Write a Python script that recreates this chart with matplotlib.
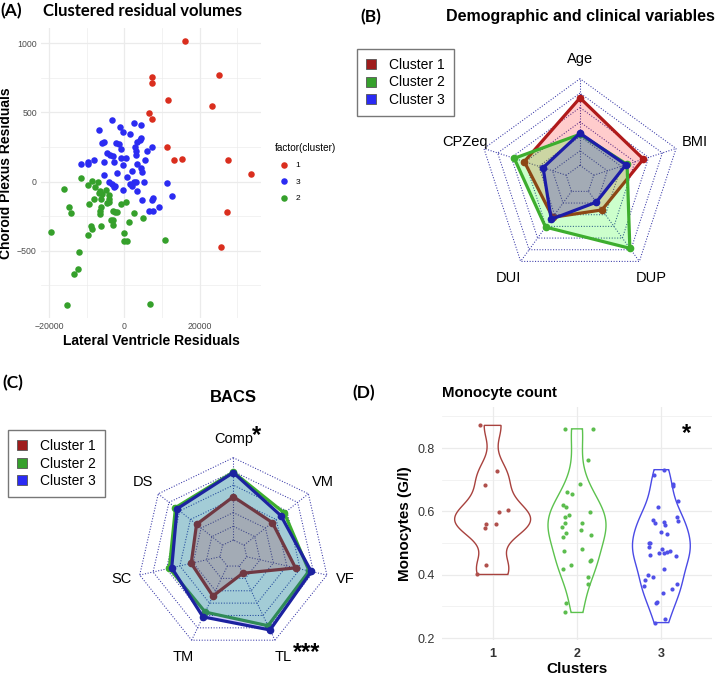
import numpy as np
import matplotlib
matplotlib.use("Agg")
from matplotlib import pyplot as plt
from matplotlib.patches import Patch

plt.rcParams['font.family'] = ['Liberation Sans', 'DejaVu Sans']

# (A) residual volumes per cluster
c1_lv = [16100, 25000, 7300, 7400, 11450, 23200, 6600, 7300, 11300, 13200, 15200, 27500, 33600, 27100, 25600]
c1_cp = [1015, 771, 754, 709, 590, 545, 492, 453, 253, 157, 161, 157, 51, -224, -470]

c3_lv = [-3350, -6700, -1300, 2600, 4400, 1400, -260, -5550, -6000, -2300, -1400, 2800, 3100, 4300, 4100,
         3400, 7200, 5900, -4500, -3800, -900, -5550, -8000, -9700, -9700, -11500, -3100, -2900, -1000, 440,
         -440, 3200, 3300, 5400, 4400, 4600, 2100, -1850, -5550, 600, 5300, -4050, -3260, -2380, -2730,
         1500, 1900, 2600, 3100, -260, 3300, 11300, 12600, 4600, 7700, 7200, 6400, 7700, 9300]
c3_cp = [446, 376, 393, 422, 405, 340, 357, 289, 277, 275, 270, 253, 224, 313, 301,
         284, 246, 217, 205, 193, 236, 142, 159, 140, 125, 123, 188, 140, 171, 171,
         116, 190, 130, 159, 96, 72, 77, 65, 48, 29, -2, -7, -17, -29, -41,
         -19, -31, 0, -7, -60, -67, -12, -104, -135, -118, -133, -210, -210, -181]

c2_lv = [-11500, -8550, -7050, -16100, -9800, -7900, -6800, -6400, -5000, -5900, -8000, -6300, -4100, -4000,
         -4100, -4500, -9500, -14700, -14100, -6300, -6400, -6500, -3100, -2500, 440, -900, -2000, 2600,
         5000, -8900, -8600, -6100, -3000, -3500, -3100, 1300, -180, -19500, -9800, -90, 600, 10700,
         -12100, -12400, -13300, -15300, 6900]
c2_cp = [24, 7, -2, -55, -24, -43, -80, -72, -60, -92, -130, -128, -96, -123,
         -147, -159, -164, -186, -229, -181, -210, -234, -210, -222, -147, -164, -224, -231,
         -263, -325, -345, -320, -316, -277, -277, -296, -374, -366, -388, -431, -427, -422,
         -511, -634, -672, -892, -889]

# (B) demographic and clinical variables, scaled 0-1 (fmsb order, counter-clockwise from top)
demo_vars = ['Age', 'CPZeq', 'DUI', 'DUP', 'BMI']
demo_c1 = [0.778, 0.510, 0.370, 0.265, 0.603]
demo_c2 = [0.358, 0.632, 0.510, 0.813, 0.405]
demo_c3 = [0.370, 0.282, 0.399, 0.154, 0.391]

# (C) BACS subscores, scaled 0-1
bacs_vars = ['Comp', 'DS', 'SC', 'TM', 'TL', 'VF', 'VM']
bacs_c1 = [0.526, 0.405, 0.358, 0.405, 0.097, 0.609, 0.440]
bacs_c2 = [0.825, 0.732, 0.631, 0.621, 0.805, 0.778, 0.627]
bacs_c3 = [0.819, 0.708, 0.601, 0.685, 0.862, 0.805, 0.574]

# (D) monocyte counts (G/l) and horizontal jitter
mono_c1 = [0.872, 0.728, 0.683, 0.599, 0.604, 0.560, 0.549, 0.561, 0.431, 0.401]
jit_c1 = [-0.15, 0.05, -0.09, 0.07, 0.18, -0.08, -0.09, 0.04, -0.08, -0.18]
mono_c2 = [0.861, 0.860, 0.763, 0.663, 0.654, 0.688, 0.619, 0.615, 0.589, 0.584, 0.598, 0.552, 0.565, 0.563,
           0.540, 0.531, 0.519, 0.527, 0.476, 0.480, 0.432, 0.419, 0.447, 0.442, 0.393, 0.372, 0.311, 0.281]
jit_c2 = [-0.14, 0.19, 0.13, -0.12, -0.06, 0.03, -0.17, -0.13, -0.09, -0.14, 0.15, -0.18, -0.14, 0.06,
          0.05, -0.13, -0.17, 0.17, -0.15, 0.06, -0.07, -0.17, 0.16, 0.15, 0.13, 0.13, -0.13, -0.14]
mono_c3 = [0.732, 0.714, 0.688, 0.679, 0.632, 0.613, 0.582, 0.571, 0.574, 0.563, 0.568, 0.556, 0.535, 0.529,
           0.500, 0.500, 0.487, 0.462, 0.468, 0.480, 0.468, 0.473, 0.474, 0.460, 0.419, 0.398, 0.393, 0.383,
           0.366, 0.371, 0.354, 0.342, 0.314, 0.311, 0.261, 0.249]
jit_c3 = [0.03, -0.09, 0.14, 0.14, 0.20, -0.04, 0.18, 0.20, -0.10, -0.08, 0.03, 0.04, -0.01, 0.07,
          -0.15, -0.14, -0.15, -0.13, -0.03, 0.01, 0.03, 0.07, 0.10, 0.17, 0.03, -0.16, -0.10, -0.19,
          -0.21, 0.18, 0.12, 0.02, -0.05, -0.06, 0.04, -0.07]

W, H = 725, 675
fig = plt.figure(figsize=(W / 100, H / 100), dpi=100)


def box(l, t, r, b):
    return [l / W, 1 - b / H, (r - l) / W, (b - t) / H]


def ftext(x, y, s, **kw):
    fig.text(x / W, 1 - y / H, s, **kw)


panel_font = ['Lato', 'DejaVu Sans']
grid_col = '#EBEBEB'

# ---------------- (A) scatter ----------------
axA = fig.add_axes(box(41, 28, 261, 318))
axA.scatter(c1_lv, c1_cp, s=22, color='#DA2E1E', lw=0, label='1', zorder=3)
axA.scatter(c3_lv, c3_cp, s=22, color='#2B2BF2', lw=0, label='3', zorder=3)
axA.scatter(c2_lv, c2_cp, s=22, color='#35A02B', lw=0, label='2', zorder=3)
axA.set_xlim(-22150, 36250)
axA.set_ylim(-987, 1110)
axA.set_xticks([-20000, 0, 20000])
axA.set_xticks([-10000, 10000, 30000], minor=True)
axA.set_yticks([-500, 0, 500, 1000])
axA.set_yticks([-750, -250, 250, 750], minor=True)
axA.grid(which='major', color=grid_col, lw=0.9)
axA.grid(which='minor', color=grid_col, lw=0.45)
axA.set_axisbelow(True)
for sp in axA.spines.values():
    sp.set_visible(False)
axA.tick_params(which='both', length=0, labelsize=6.3, labelcolor='#4D4D4D', pad=3)
axA.set_xlabel('Lateral Ventricle Residuals', fontsize=10, fontweight='bold', labelpad=2)
axA.set_ylabel('Choroid Plexus Residuals', fontsize=10, fontweight='bold', labelpad=3)
legA = axA.legend(title='factor(cluster)', loc='upper left', bbox_to_anchor=(272 / W, 1 - 140 / H),
                  bbox_transform=fig.transFigure, frameon=False, fontsize=6, title_fontsize=7.2,
                  handletextpad=0.4, labelspacing=1.0, borderaxespad=0, markerscale=1.0)
legA._legend_box.align = 'left'
ftext(0, 11, '(A)', fontsize=12.5, fontweight='bold', family=panel_font, va='center')
ftext(43, 11, 'Clustered residual volumes', fontsize=12, fontweight='bold', family=panel_font, va='center')


# ---------------- radar helper (fmsb style) ----------------
def radar(ax, labels, series, line_cols, fill_cols, seg=6):
    n = len(labels)
    theta = np.deg2rad(90 + 360 * np.arange(n) / n)
    cx, cy = np.cos(theta), np.sin(theta)
    for i in range(seg + 1):
        r = (i + 1) / (seg + 1)
        ax.plot(np.append(cx, cx[0]) * r, np.append(cy, cy[0]) * r, ls=(0, (1, 1.6)),
                color='#3434A6', lw=0.75, zorder=2)
    for k in range(n):
        ax.plot([cx[k] / (seg + 1), cx[k]], [cy[k] / (seg + 1), cy[k]], ls=(0, (1, 1.6)),
                color='#3434A6', lw=0.75, zorder=2)
    for j, (vals, lc, fc) in enumerate(zip(series, line_cols, fill_cols)):
        r = (1 + np.array(vals) * seg) / (seg + 1)
        ax.fill(cx * r, cy * r, facecolor=fc, edgecolor=lc, lw=2.3, zorder=3 + 2 * j, joinstyle='miter')
        ax.plot(cx * r, cy * r, 'o', color=lc, ms=4.5, zorder=4 + 2 * j)
    for k in range(n):
        ax.text(1.2 * cx[k], 1.2 * cy[k], labels[k], ha='center', va='center', fontsize=10.5)
    ax.axis('off')


line_cols = ['#B01A1A', '#3DAE2E', '#1C1CA8']
fill_cols = [(1, 0, 0, 0.2), (0, 1, 0, 0.2), (0, 0, 1, 0.2)]
leg_cols = ['#9E1C1C', '#36A02C', '#2A2AF4']
leg_handles = [Patch(facecolor=c, edgecolor='#555555', lw=0.6) for c in leg_cols]
leg_labels = ['Cluster 1', 'Cluster 2', 'Cluster 3']
leg_kw = dict(bbox_transform=fig.transFigure, loc='upper left', fontsize=10, handlelength=0.75,
              handleheight=0.75, handletextpad=0.9, labelspacing=0.25, borderpad=0.65, borderaxespad=0,
              fancybox=False, edgecolor='#777777', framealpha=1)

# ---------------- (B) ----------------
bcx, bcy, bR = 580, 179.7, 101
axB = fig.add_axes(box(435, 30, 725, 330))
radar(axB, demo_vars, [demo_c1, demo_c2, demo_c3], line_cols, fill_cols)
axB.set_xlim((435 - bcx) / bR, (725 - bcx) / bR)
axB.set_ylim(-(330 - bcy) / bR, (bcy - 30) / bR)
axB.legend(leg_handles, leg_labels, bbox_to_anchor=(357 / W, 1 - 49 / H), **leg_kw)
ftext(360, 17, '(B)', fontsize=12.5, fontweight='bold', family=panel_font, va='center')
ftext(580, 17, 'Demographic and clinical variables', fontsize=11.5, fontweight='bold', ha='center', va='center')

# ---------------- (C) ----------------
ccx, ccy, cR = 233.3, 553.7, 96
axC = fig.add_axes(box(100, 415, 370, 675))
radar(axC, bacs_vars, [bacs_c1, bacs_c2, bacs_c3], ['#B01A1A', '#3DAE2E', '#1C22A0'], fill_cols)
axC.set_xlim((100 - ccx) / cR, (370 - ccx) / cR)
axC.set_ylim(-(675 - ccy) / cR, (ccy - 415) / cR)
axC.legend(leg_handles, leg_labels, bbox_to_anchor=(8 / W, 1 - 430 / H), **leg_kw)
ftext(2, 383, '(C)', fontsize=12.5, fontweight='bold', family=panel_font, va='center')
ftext(233, 397, 'BACS', fontsize=12, fontweight='bold', ha='center', va='center')
ftext(257, 436, '*', fontsize=17, fontweight='bold', ha='center', va='center')
ftext(307, 653, '***', fontsize=17, fontweight='bold', ha='center', va='center')

# ---------------- (D) violins ----------------
axD = fig.add_axes(box(442, 407, 712, 640))
groups = [mono_c1, mono_c2, mono_c3]
jitters = [jit_c1, jit_c2, jit_c3]
vcols = ['#A8423E', '#5CC24E', '#4A4AE6']
pcols = ['#B0504C', '#5CBD4E', '#5050E8']


def nrd0(v):
    sd = np.std(v, ddof=1)
    q75, q25 = np.percentile(v, [75, 25])
    return 0.9 * min(sd, (q75 - q25) / 1.34) * len(v) ** -0.2


dens = []
for g in groups:
    v = np.array(g)
    bw = nrd0(v)
    grid = np.linspace(v.min(), v.max(), 512)
    d = np.exp(-0.5 * ((grid[:, None] - v[None, :]) / bw) ** 2).sum(1) / (len(v) * bw * np.sqrt(2 * np.pi))
    dens.append((grid, d))
dmax = max(d.max() for _, d in dens)

for i, (grid, d) in enumerate(dens):
    pos = i + 1
    hw = 0.45 * d / dmax
    axD.fill(np.concatenate([pos + hw, (pos - hw)[::-1]]), np.concatenate([grid, grid[::-1]]),
             facecolor='none', edgecolor=vcols[i], lw=1.0, zorder=3)
    axD.scatter(pos + np.array(jitters[i]), groups[i], s=9, color=pcols[i], lw=0, zorder=4)

axD.set_xlim(0.4, 3.6)
axD.set_ylim(0.194, 0.93)
axD.set_xticks([1, 2, 3])
axD.set_xticklabels(['1', '2', '3'], fontweight='bold')
axD.set_yticks([0.2, 0.4, 0.6, 0.8])
axD.set_yticklabels(['0.2', '0.4', '0.6', '0.8'])
axD.set_yticks([0.3, 0.5, 0.7, 0.9], minor=True)
axD.grid(which='major', color=grid_col, lw=0.9)
axD.grid(which='minor', axis='y', color=grid_col, lw=0.45)
axD.set_axisbelow(True)
for sp in axD.spines.values():
    sp.set_visible(False)
axD.tick_params(which='both', length=0, labelsize=9, labelcolor='#333333')
axD.tick_params(axis='y', pad=5)
axD.tick_params(axis='x', pad=6)
axD.set_xlabel('Clusters', fontsize=11, fontweight='bold', labelpad=1)
axD.set_ylabel('Monocytes (G/l)', fontsize=11, fontweight='bold', labelpad=4)
ftext(352, 393, '(D)', fontsize=12.5, fontweight='bold', family=panel_font, va='center')
ftext(442, 393, 'Monocyte count', fontsize=10.8, fontweight='bold', va='center')
ftext(687, 434, '*', fontsize=17, fontweight='bold', ha='center', va='center')

fig.savefig('out.png', dpi=100)
